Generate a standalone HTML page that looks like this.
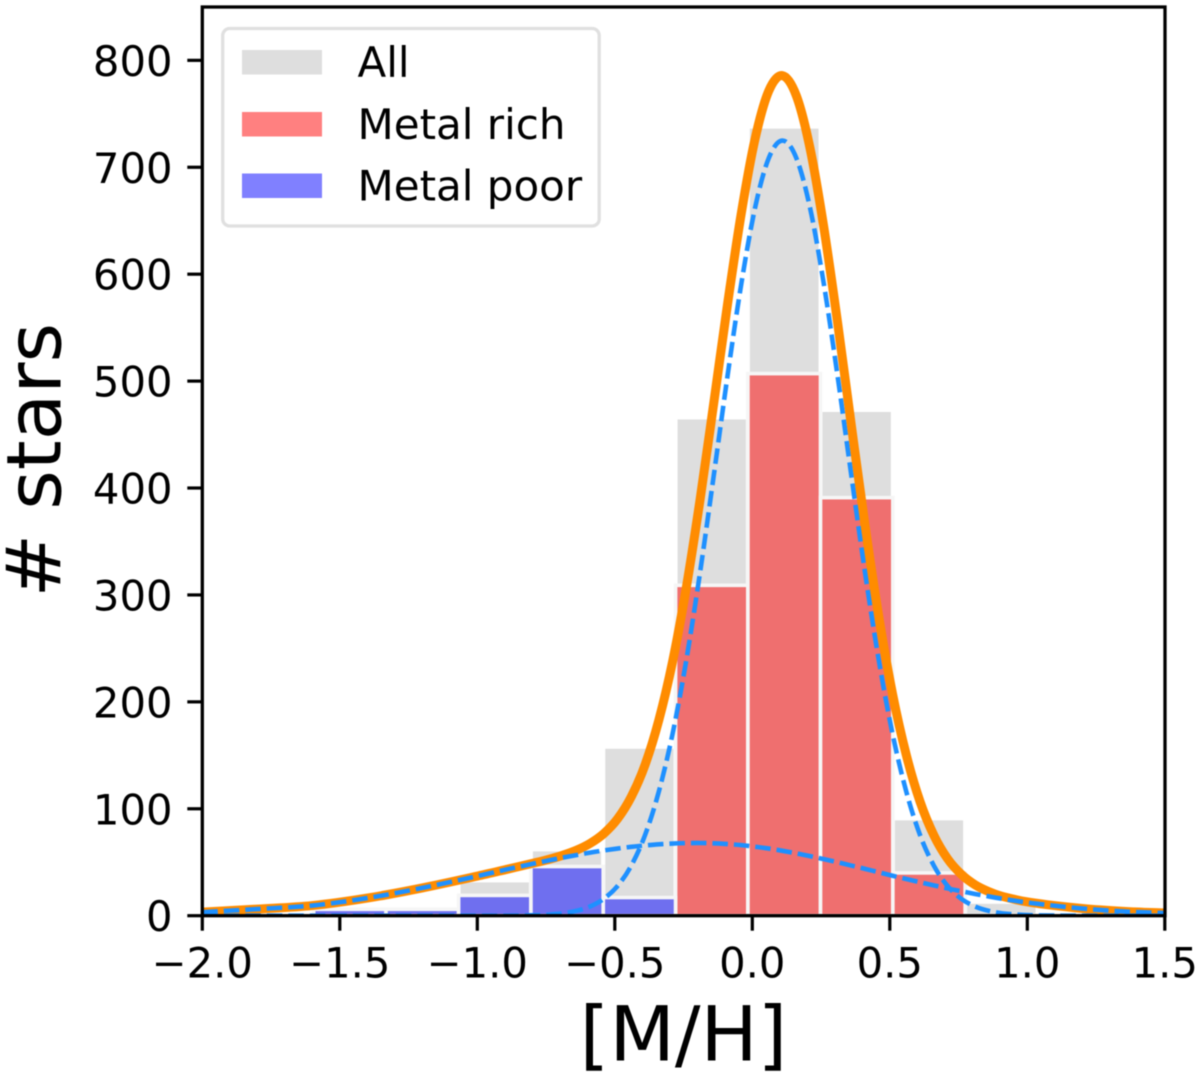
<!DOCTYPE html>
<html lang="en">
<head>
<meta charset="utf-8">
<title>[M/H] histogram</title>
<style>
html,body{margin:0;padding:0;background:#fff;}
svg{display:block;filter:blur(0.45px);}
text{font-family:"DejaVu Sans","Liberation Sans",sans-serif;fill:#000;}
</style>
</head>
<body>
<svg id="chart" xmlns="http://www.w3.org/2000/svg" width="1200" height="1076" viewBox="0 0 1200 1076">
  <defs>
    <clipPath id="plot-clip"><rect x="202.3" y="7" width="962.7" height="908.7"></rect></clipPath>
  </defs>
  <rect x="0" y="0" width="1200" height="1076" fill="#fff"></rect>
  <g id="bars" clip-path="url(#plot-clip)"></g>
  <g id="curves" clip-path="url(#plot-clip)"></g>
  <g id="ticks"></g>
  <rect x="202.3" y="7" width="962.7" height="908.7" fill="none" stroke="#000" stroke-width="3.3"></rect>

  <text x="683.5" y="1060.7" font-size="76" text-anchor="middle">[M/H]</text>
  <text transform="translate(60.3,460.2) rotate(-90)" font-size="76" text-anchor="middle"># stars</text>

  <g>
    <rect x="222.7" y="28.5" width="376.5" height="197.5" rx="7" ry="7" fill="#fff" fill-opacity="0.8" stroke="#e0e0e0" stroke-width="3.3"></rect>
    <rect x="242" y="50" width="80" height="24.5" fill="#dedede"></rect>
    <text x="357.5" y="76.8" font-size="42">All</text>
    <rect x="242" y="112" width="80" height="24.5" fill="#ff8080"></rect>
    <text x="357.5" y="138.8" font-size="42">Metal rich</text>
    <rect x="242" y="173.5" width="80" height="24.5" fill="#8080ff"></rect>
    <text x="357.5" y="200.3" font-size="42">Metal poor</text>
  </g>
</svg>
<script>
const binEdges = [-1.595, -1.332, -1.068, -0.805, -0.542, -0.279, -0.016, 0.248, 0.511, 0.774, 1.037];
const allCounts = [6, 9, 33, 62, 158, 466, 738, 473, 91, 13];
const richCounts = [0, 0, 0, 0, 0, 309, 507, 391, 40, 0];
const poorCounts = [6, 6, 19, 46, 17, 0, 0, 0, 0, 0];

const curveX = [-2.0, -1.8, -1.6, -1.4, -1.2, -1.0, -0.89, -0.79, -0.74, -0.69, -0.64, -0.59, -0.54, -0.49, -0.44, -0.39, -0.34, -0.29, -0.24, -0.19, -0.14, -0.09, -0.04, 0.01, 0.06, 0.11, 0.16, 0.21, 0.26, 0.31, 0.36, 0.41, 0.46, 0.51, 0.56, 0.61, 0.66, 0.71, 0.76, 0.81, 0.86, 0.91, 1.01, 1.2, 1.35, 1.5];
const totalFit = [3.3, 6.2, 9.5, 16.5, 26, 37, 43.5, 49.5, 52.7, 56.5, 61.2, 67.6, 76.8, 90.6, 111.3, 141.1, 182.8, 237.5, 306.9, 389, 479.7, 572, 657, 726.5, 771.5, 785.7, 767, 717.7, 643.9, 555, 458.9, 364.8, 279.6, 207.4, 150.3, 106.7, 75.3, 53.3, 38.7, 28.9, 22.5, 18, 12.5, 6.7, 4, 2.5];
const richFit = [0, 0, 0, 0, 0, 0, 0, 0.5, 1, 2.2, 4.5, 8.6, 15.8, 27.8, 46.9, 75.4, 116, 170, 239, 321, 412, 505, 591, 662, 708.7, 725, 708.7, 662, 591, 505, 412, 321, 239, 170, 116, 75.4, 46.9, 27.8, 15.8, 8.6, 4.5, 2.2, 0.5, 0, 0, 0];
const poorFit = [3.3, 6.2, 9.5, 16.5, 26, 37, 43.5, 49, 51.7, 54.3, 56.7, 59, 61, 62.8, 64.4, 65.7, 66.8, 67.5, 67.9, 68, 67.7, 67, 66, 64.5, 62.8, 60.7, 58.3, 55.7, 52.9, 50, 46.9, 43.8, 40.6, 37.4, 34.3, 31.3, 28.4, 25.5, 22.9, 20.3, 18, 15.8, 12, 6.7, 4, 2.5];

const xTicks = [-2.0, -1.5, -1.0, -0.5, 0.0, 0.5, 1.0, 1.5];
const xTickLabels = ["\u22122.0", "\u22121.5", "\u22121.0", "\u22120.5", "0.0", "0.5", "1.0", "1.5"];
const yTicks = [0, 100, 200, 300, 400, 500, 600, 700, 800];
const yTickLabels = ["0", "100", "200", "300", "400", "500", "600", "700", "800"];

const NS = "http://www.w3.org/2000/svg";
function xScale(v) { return 752.3 + 275 * v; }
function yScale(v) { return 915.7 - 1.0692 * v; }

function drawBars(group, counts, fill, fillOpacity, edgeColor, edgeWidth, name) {
  counts.forEach(function (c, i) {
    if (c <= 0) return;
    const r = document.createElementNS(NS, "rect");
    const x0 = xScale(binEdges[i]);
    const x1 = xScale(binEdges[i + 1]);
    const yTop = yScale(c);
    r.setAttribute("x", x0);
    r.setAttribute("y", yTop);
    r.setAttribute("width", x1 - x0);
    r.setAttribute("height", yScale(0) - yTop);
    r.setAttribute("fill", fill);
    r.setAttribute("fill-opacity", fillOpacity);
    r.setAttribute("stroke", edgeColor);
    r.setAttribute("stroke-width", edgeWidth);
    
    
    group.appendChild(r);
  });
}

function curvePath(xs, ys) {
  const px = xs.map(xScale);
  const py = ys.map(yScale);
  const n = px.length;
  const m = [];
  for (let i = 0; i < n; i++) {
    const a = Math.max(i - 1, 0);
    const b = Math.min(i + 1, n - 1);
    m.push((py[b] - py[a]) / (px[b] - px[a]));
  }
  let d = "M" + px[0].toFixed(2) + " " + py[0].toFixed(2);
  for (let i = 0; i < n - 1; i++) {
    const h = (px[i + 1] - px[i]) / 3;
    d += "C" + (px[i] + h).toFixed(2) + " " + (py[i] + m[i] * h).toFixed(2) + " " +
      (px[i + 1] - h).toFixed(2) + " " + (py[i + 1] - m[i + 1] * h).toFixed(2) + " " +
      px[i + 1].toFixed(2) + " " + py[i + 1].toFixed(2);
  }
  return d;
}

function drawCurve(group, ys, color, width, dash, name) {
  const p = document.createElementNS(NS, "path");
  p.setAttribute("d", curvePath(curveX, ys));
  p.setAttribute("fill", "none");
  p.setAttribute("stroke", color);
  p.setAttribute("stroke-width", width);
  if (dash) p.setAttribute("stroke-dasharray", dash);
  
  
  group.appendChild(p);
}

const barsGroup = document.getElementById("bars");
drawBars(barsGroup, allCounts, "#dedede", 1, "#ffffff", 4, "all");
drawBars(barsGroup, richCounts, "#ff0000", 0.5, "#f6f6f6", 3.6, "metal-rich");
drawBars(barsGroup, poorCounts, "#0000ff", 0.5, "#f6f6f6", 3.6, "metal-poor");

const curvesGroup = document.getElementById("curves");
drawCurve(curvesGroup, totalFit, "#ff8c00", 9, null, "total-fit-line");
drawCurve(curvesGroup, richFit, "#1e90ff", 4.6, "15.5 6", "metal-rich-fit-line");
drawCurve(curvesGroup, poorFit, "#1e90ff", 4.6, "15.5 6", "metal-poor-fit-line");

const ticksGroup = document.getElementById("ticks");
xTicks.forEach(function (v, i) {
  const l = document.createElementNS(NS, "line");
  l.setAttribute("x1", xScale(v));
  l.setAttribute("x2", xScale(v));
  l.setAttribute("y1", yScale(0));
  l.setAttribute("y2", yScale(0) + 15);
  l.setAttribute("stroke", "#000");
  l.setAttribute("stroke-width", "3.2");
  
  
  ticksGroup.appendChild(l);
  const t = document.createElementNS(NS, "text");
  t.setAttribute("x", xScale(v));
  t.setAttribute("y", 977.3);
  t.setAttribute("font-size", "41.7");
  t.setAttribute("text-anchor", "middle");
  t.textContent = xTickLabels[i];
  
  
  ticksGroup.appendChild(t);
});
yTicks.forEach(function (v, i) {
  const l = document.createElementNS(NS, "line");
  l.setAttribute("x1", 202.3);
  l.setAttribute("x2", 187.3);
  l.setAttribute("y1", yScale(v));
  l.setAttribute("y2", yScale(v));
  l.setAttribute("stroke", "#000");
  l.setAttribute("stroke-width", "3.2");
  
  
  ticksGroup.appendChild(l);
  const t = document.createElementNS(NS, "text");
  t.setAttribute("x", 172.5);
  t.setAttribute("y", yScale(v) + 15.5);
  t.setAttribute("font-size", "41.7");
  t.setAttribute("text-anchor", "end");
  t.textContent = yTickLabels[i];
  
  
  ticksGroup.appendChild(t);
});
</script>
</body>
</html>
